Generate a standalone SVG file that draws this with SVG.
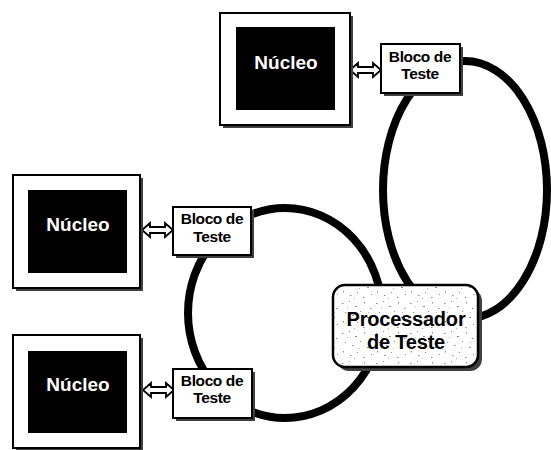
<svg xmlns="http://www.w3.org/2000/svg" width="551" height="450" viewBox="0 0 551 450">
  <style>
    .frame { fill: #ffffff; stroke: #000000; stroke-width: 2; }
    .shadow { fill: #404040; }
    .core { fill: #000000; }
    .core-label { font-family: "Liberation Sans", Arial, sans-serif; font-weight: bold; font-size: 19px; fill: #ffffff; text-anchor: middle; }
    .block { fill: #ffffff; stroke: #000000; stroke-width: 2; }
    .block-label { font-family: "Liberation Sans", Arial, sans-serif; font-weight: bold; font-size: 15.5px; fill: #000000; text-anchor: middle; letter-spacing: -0.4px; }
    .proc-label { font-family: "Liberation Sans", Arial, sans-serif; font-weight: bold; font-size: 20px; fill: #000000; text-anchor: middle; letter-spacing: -0.2px; }
    .ring { fill: none; stroke: #000000; stroke-width: 8; }
    .link { fill: #ffffff; stroke: #000000; stroke-width: 1.8; stroke-linejoin: miter; }
  </style>
  <defs>
    <!-- hollow double-headed arrow, 31 px long, centred on y=0 -->
    <path id="dbl" d="M0,0 L8,-7 L8,-3 L23,-3 L23,-7 L31,0 L23,7 L23,3 L8,3 L8,7 Z"/>
    <!-- speckled fill for the test processor -->
    <pattern id="speckle" width="34" height="30" patternUnits="userSpaceOnUse">
      <rect width="34" height="30" fill="#ffffff"/>
      <g fill="#8a8a8a">
        <rect x="2" y="3" width="1.5" height="1"/>
        <rect x="9" y="1" width="1" height="1"/>
        <rect x="15" y="6" width="2" height="1"/>
        <rect x="24" y="2" width="1" height="1.5"/>
        <rect x="30" y="8" width="1.5" height="1"/>
        <rect x="5" y="12" width="1" height="1"/>
        <rect x="12" y="15" width="1.5" height="1"/>
        <rect x="20" y="11" width="1" height="1"/>
        <rect x="27" y="17" width="2" height="1"/>
        <rect x="3" y="21" width="1" height="1.5"/>
        <rect x="10" y="25" width="1.5" height="1"/>
        <rect x="17" y="22" width="1" height="1"/>
        <rect x="23" y="27" width="1.5" height="1"/>
        <rect x="31" y="24" width="1" height="1"/>
      </g>
      <g fill="#b5b5b5">
        <rect x="7" y="7" width="1" height="1"/>
        <rect x="19" y="18" width="1" height="1"/>
        <rect x="28" y="12" width="1" height="1"/>
        <rect x="14" y="28" width="1" height="1"/>
      </g>
    </pattern>
  </defs>

  <!-- scan-chain loops and core links -->
  <g id="connectors">
    <ellipse class="ring" cx="465" cy="190" rx="82" ry="129"/>
    <ellipse class="ring" cx="285" cy="313" rx="97" ry="105"/>
    <use href="#dbl" class="link" transform="translate(350,70)"/>
    <use href="#dbl" class="link" transform="translate(142,230)"/>
    <use href="#dbl" class="link" transform="translate(143,390)"/>
  </g>

  <!-- cores -->
  <g id="core-top">
    <rect class="shadow" x="223" y="16" width="130" height="112"/>
    <rect class="frame" x="220" y="13" width="130" height="112"/>
    <rect class="core" x="236" y="27" width="99" height="83"/>
    <text class="core-label" x="286" y="69">Núcleo</text>
  </g>
  <g id="core-middle">
    <rect class="shadow" x="16" y="178" width="127" height="113"/>
    <rect class="frame" x="13" y="175" width="127" height="113"/>
    <rect class="core" x="28" y="190" width="99" height="83"/>
    <text class="core-label" x="78" y="231">Núcleo</text>
  </g>
  <g id="core-bottom">
    <rect class="shadow" x="16" y="338" width="127" height="113"/>
    <rect class="frame" x="13" y="335" width="127" height="113"/>
    <rect class="core" x="28" y="351" width="99" height="82"/>
    <text class="core-label" x="78" y="391">Núcleo</text>
  </g>

  <!-- test wrappers -->
  <g id="block-top">
    <rect class="shadow" x="384" y="47" width="79" height="49"/>
    <rect class="block" x="381" y="44" width="79" height="49"/>
    <text class="block-label" x="420" y="62">Bloco de</text>
    <text class="block-label" x="420" y="79">Teste</text>
  </g>
  <g id="block-middle">
    <rect class="shadow" x="176" y="210" width="78" height="48"/>
    <rect class="block" x="173" y="207" width="78" height="48"/>
    <text class="block-label" x="212" y="224">Bloco de</text>
    <text class="block-label" x="212" y="242">Teste</text>
  </g>
  <g id="block-bottom">
    <rect class="shadow" x="176" y="372" width="79" height="49"/>
    <rect class="block" x="173" y="369" width="79" height="49"/>
    <text class="block-label" x="212" y="386">Bloco de</text>
    <text class="block-label" x="212" y="403">Teste</text>
  </g>

  <!-- test processor -->
  <g id="processor">
    <rect class="shadow" x="337" y="289" width="145" height="82" rx="12"/>
    <rect x="333" y="285" width="145" height="82" rx="12" fill="url(#speckle)" stroke="#000000" stroke-width="2.5"/>
    <text class="proc-label" x="406" y="326">Processador</text>
    <text class="proc-label" x="406" y="349">de Teste</text>
  </g>
</svg>
